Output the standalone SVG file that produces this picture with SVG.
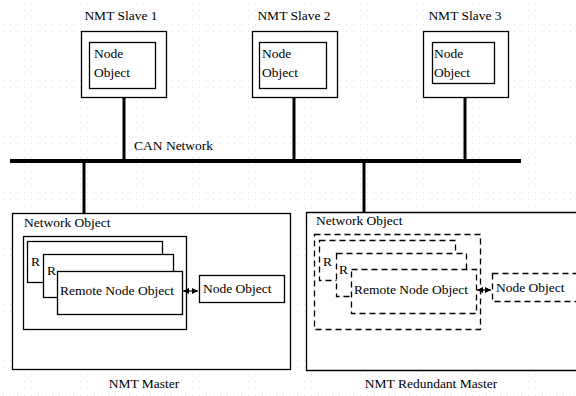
<svg xmlns="http://www.w3.org/2000/svg" width="576" height="396" viewBox="0 0 576 396" font-family="'Liberation Serif', 'DejaVu Serif', 'Times New Roman', serif" font-size="13.5">
<defs>
<pattern id="dots" width="7" height="7" patternUnits="userSpaceOnUse">
<rect x="3" y="3" width="1" height="1" fill="#e2e2e2"/>
</pattern>
<marker id="ah" viewBox="0 0 6 6" refX="6" refY="3" markerWidth="6" markerHeight="6" orient="auto-start-reverse" markerUnits="userSpaceOnUse">
<path d="M0,0 L6,3 L0,6 Z" fill="#000"/>
</marker>
<style>
text{fill:#000}
.box{fill:#fff;stroke:#000;stroke-width:1.3}
.dash{fill:#fff;stroke:#000;stroke-width:1.3;stroke-dasharray:6,4}
.wire{stroke:#000;stroke-width:3;fill:none}
.bus{stroke:#000;stroke-width:4;fill:none}
.lnk{stroke:#000;stroke-width:1.2;fill:none}
</style>
</defs>
<rect width="576" height="396" fill="#fff"/>
<rect width="576" height="396" fill="url(#dots)"/>

<text x="134" y="150">CAN Network</text>

<g id="slave1">
<text x="121" y="20" text-anchor="middle">NMT Slave 1</text>
<rect class="box" x="81.5" y="31.5" width="85" height="66"/>
<rect class="box" x="89.5" y="42.5" width="66" height="46"/>
<text x="94" y="58">Node</text>
<text x="94" y="77">Object</text>
</g>

<g id="slave2">
<text x="294" y="20" text-anchor="middle">NMT Slave 2</text>
<rect class="box" x="252.5" y="31.5" width="85" height="66"/>
<rect class="box" x="259.5" y="42.5" width="67" height="46"/>
<text x="262" y="58">Node</text>
<text x="262" y="77">Object</text>
</g>

<g id="slave3">
<text x="465" y="20" text-anchor="middle">NMT Slave 3</text>
<rect class="box" x="423.5" y="31.5" width="85" height="66"/>
<rect class="box" x="432.5" y="42.5" width="62" height="41"/>
<text x="434" y="58">Node</text>
<text x="434" y="77">Object</text>
</g>

<g id="master">
<rect class="box" x="12.5" y="213.5" width="278" height="156"/>
<text x="24" y="227">Network Object</text>
<rect class="box" x="23.5" y="236.5" width="163" height="93"/>
<rect class="box" x="27.5" y="241.5" width="135" height="41"/>
<text x="31" y="266">R</text>
<rect class="box" x="43.5" y="254.5" width="130" height="43"/>
<text x="47" y="275">R</text>
<rect class="box" x="57.5" y="271.5" width="125" height="43"/>
<text x="60" y="295">Remote Node Object</text>
<rect class="box" x="199.5" y="275.5" width="85" height="27"/>
<text x="203" y="293">Node Object</text>
<text x="144" y="388" text-anchor="middle">NMT Master</text>
</g>

<g id="redundant-master">
<path class="box" d="M578,212.5 H306.5 V370.5 H578"/>
<text x="316" y="225">Network Object</text>
<rect class="dash" x="314.5" y="234.5" width="166" height="95"/>
<rect class="dash" x="319.5" y="240.5" width="136" height="40"/>
<text x="323" y="266">R</text>
<rect class="dash" x="336.5" y="253.5" width="130" height="43"/>
<text x="339" y="274">R</text>
<rect class="dash" x="351.5" y="269.5" width="125" height="44"/>
<text x="354" y="294">Remote Node Object</text>
<rect class="dash" x="492.5" y="273.5" width="100" height="28"/>
<text x="496" y="292">Node Object</text>
<text x="431" y="388" text-anchor="middle">NMT Redundant Master</text>
</g>

<g id="connectors">
<line class="bus" x1="10" y1="161" x2="521" y2="161"/>
<line class="wire" x1="124" y1="97" x2="124" y2="161"/>
<line class="wire" x1="294" y1="97" x2="294" y2="161"/>
<line class="wire" x1="465" y1="97" x2="465" y2="161"/>
<line class="wire" x1="84" y1="161" x2="84" y2="213"/>
<line class="wire" x1="364" y1="161" x2="364" y2="212"/>
<line class="lnk" x1="183" y1="291" x2="198" y2="291" marker-start="url(#ah)" marker-end="url(#ah)"/>
<line class="lnk" x1="477" y1="290" x2="491" y2="290" marker-start="url(#ah)" marker-end="url(#ah)"/>
</g>
</svg>
